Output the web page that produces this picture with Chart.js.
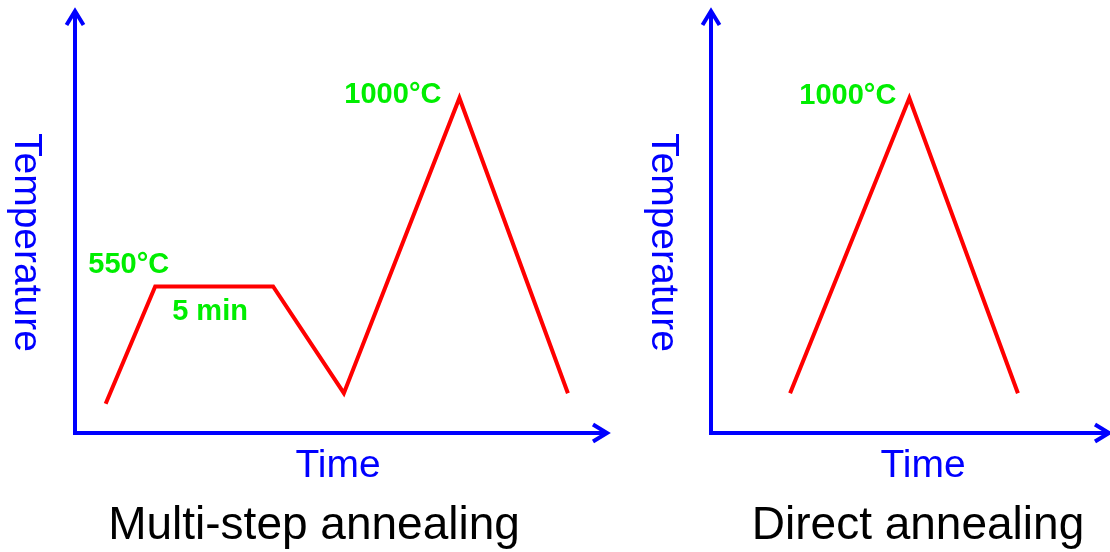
<!DOCTYPE html>
<html>
<head>
<meta charset="utf-8">
<title>Annealing profiles</title>
<script src="https://cdn.jsdelivr.net/npm/chart.js@4/dist/chart.umd.min.js"></script>
<style>
  html, body { margin: 0; padding: 0; background: #fff; overflow: hidden; }
  #wrap { position: relative; width: 1110px; height: 552px; }
  canvas { position: absolute; top: 0; }
  #multi { left: 0; }
  #direct { left: 640px; }
</style>
</head>
<body>
<div id="wrap">
  <canvas id="multi" width="640" height="552"></canvas>
  <canvas id="direct" width="470" height="552"></canvas>
</div>
<script>
// time in minutes, temperature in °C
const multiTime = [1.3, 3.4, 8.4, 11.4, 16.3, 20.9];
const multiTemp = [270, 550, 550, 295, 1000, 295];
const directTime = [3.35, 8.4, 13.0];
const directTemp = [295, 1000, 295];
const panelTitles = ['Multi-step annealing', 'Direct annealing'];
const xName = 'Time';
const yName = 'Temperature';

const FONT = '"Liberation Sans", Arial, Helvetica, sans-serif';
const BLUE = '#0000ff';
const GREEN = '#00ee00';
const RED = '#ff0000';

function toPoints(xs, ys) {
  return xs.map((x, i) => ({ x: x, y: ys[i] }));
}

function arrowHead(ctx, x, y, dir) {
  ctx.beginPath();
  if (dir === 'up') {
    ctx.moveTo(x - 8.5, y + 15);
    ctx.lineTo(x, y + 1);
    ctx.lineTo(x + 8.5, y + 15);
  } else {
    ctx.moveTo(x - 15, y - 8.5);
    ctx.lineTo(x - 1, y);
    ctx.lineTo(x - 15, y + 8.5);
  }
  ctx.stroke();
}

// blue axes with arrow heads, drawn under the line
const axesPlugin = {
  id: 'arrowAxes',
  beforeDatasetsDraw(chart) {
    const { ctx, chartArea: a } = chart;
    ctx.save();
    ctx.strokeStyle = BLUE;
    ctx.lineWidth = 4;
    ctx.lineJoin = 'miter';
    ctx.beginPath();
    ctx.moveTo(a.left, a.bottom);
    ctx.lineTo(a.left, a.top + 2);
    ctx.moveTo(a.left - 2, a.bottom);
    ctx.lineTo(a.right - 2, a.bottom);
    ctx.stroke();
    arrowHead(ctx, a.left, a.top, 'up');
    arrowHead(ctx, a.right, a.bottom, 'right');
    ctx.restore();
  }
};

// axis names, panel title and the value notes
const textPlugin = {
  id: 'panelText',
  afterDraw(chart) {
    const o = chart.options.plugins.panelText;
    const { ctx } = chart;
    const xs = chart.scales.x, ys = chart.scales.y;
    const pts = chart.data.datasets[0].data;
    ctx.save();

    ctx.fillStyle = BLUE;
    ctx.font = '39px ' + FONT;
    ctx.textAlign = 'center';
    ctx.textBaseline = 'alphabetic';
    ctx.fillText(xName, o.xNameX, 477);

    ctx.save();
    ctx.translate(o.yNameX, 133);
    ctx.rotate(Math.PI / 2);
    ctx.textAlign = 'left';
    ctx.fillText(yName, 0, 0);
    ctx.restore();

    ctx.fillStyle = '#000';
    ctx.font = '46px ' + FONT;
    ctx.textAlign = 'center';
    ctx.fillText(o.title, o.titleX, 539);

    ctx.fillStyle = GREEN;
    ctx.font = 'bold 29px ' + FONT;
    o.notes.forEach(n => {
      const p = pts[n.index];
      let text;
      if (n.kind === 'temp') {
        text = p.y + '°C';
      } else {
        text = (pts[n.index + 1].x - p.x).toFixed(0) + ' min';
      }
      ctx.textAlign = n.align;
      ctx.fillText(text, xs.getPixelForValue(p.x) + n.dx, ys.getPixelForValue(p.y) + n.dy);
    });
    ctx.restore();
  }
};

function makeChart(id, xs, ys, xMax, padRight, extra) {
  return new Chart(document.getElementById(id), {
    type: 'line',
    data: {
      datasets: [{
        data: toPoints(xs, ys),
        borderColor: RED,
        borderWidth: 4,
        borderJoinStyle: 'miter',
        pointRadius: 0,
        tension: 0,
        fill: false
      }]
    },
    options: {
      responsive: false,
      animation: false,
      layout: { padding: { left: extra.padLeft, right: padRight, top: 10, bottom: 119 } },
      scales: {
        x: { type: 'linear', min: 0, max: xMax, display: false },
        y: { type: 'linear', min: 200, max: 1210, display: false }
      },
      plugins: {
        legend: { display: false },
        tooltip: { enabled: false },
        panelText: extra
      }
    },
    plugins: [axesPlugin, textPlugin]
  });
}

makeChart('multi', multiTime, multiTemp, 22.6, 32, {
  padLeft: 75,
  title: panelTitles[0],
  titleX: 314,
  xNameX: 338,
  yNameX: 15,
  notes: [
    { index: 1, kind: 'temp', align: 'right', dx: 14, dy: -13 },
    { index: 1, kind: 'time', align: 'left', dx: 17, dy: 34 },
    { index: 4, kind: 'temp', align: 'right', dx: -18, dy: 5 }
  ]
});

makeChart('direct', directTime, directTemp, 16.9, 0, {
  padLeft: 71,
  title: panelTitles[1],
  titleX: 278,
  xNameX: 283,
  yNameX: 12,
  notes: [
    { index: 1, kind: 'temp', align: 'right', dx: -13, dy: 6 }
  ]
});
</script>
</body>
</html>
